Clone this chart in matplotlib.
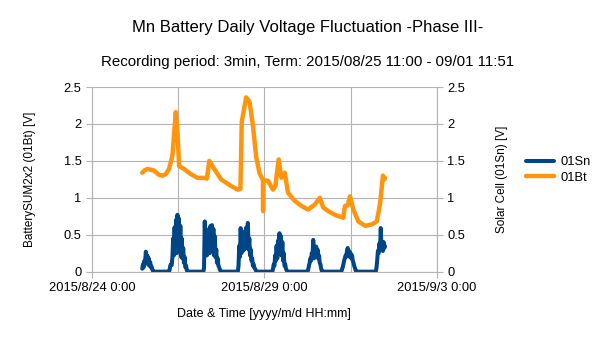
import matplotlib
matplotlib.use('Agg')
import matplotlib.pyplot as plt
import pandas as pd

plt.rcParams['font.family'] = ['Liberation Sans', 'DejaVu Sans']

# 01Bt : battery voltage (left axis)
bt_time = ['2015-08-25 11:00', '2015-08-25 12:30', '2015-08-25 14:30', '2015-08-25 17:00',
           '2015-08-25 19:10', '2015-08-25 22:40', '2015-08-26 01:00',
           '2015-08-26 03:20', '2015-08-26 05:40', '2015-08-26 08:00', '2015-08-26 10:20',
           '2015-08-26 11:30', '2015-08-26 12:40', '2015-08-26 16:10', '2015-08-26 20:50',
           '2015-08-27 01:30', '2015-08-27 06:10', '2015-08-27 08:00', '2015-08-27 09:40',
           '2015-08-27 13:10', '2015-08-27 17:50', '2015-08-28 00:50', '2015-08-28 05:30',
           '2015-08-28 07:20', '2015-08-28 08:15', '2015-08-28 11:20', '2015-08-28 13:40',
           '2015-08-28 16:00', '2015-08-28 18:20', '2015-08-28 20:40', '2015-08-28 23:00',
           '2015-08-28 23:06', '2015-08-28 23:12', '2015-08-29 02:30', '2015-08-29 06:00',
           '2015-08-29 07:40', '2015-08-29 09:55', '2015-08-29 11:50', '2015-08-29 14:10',
           '2015-08-29 16:25', '2015-08-29 21:05', '2015-08-30 01:50', '2015-08-30 06:25',
           '2015-08-30 11:10', '2015-08-30 14:35', '2015-08-30 16:55', '2015-08-30 20:25',
           '2015-08-31 01:05', '2015-08-31 06:55', '2015-08-31 08:05', '2015-08-31 10:00',
           '2015-08-31 11:35', '2015-08-31 13:55', '2015-08-31 17:25', '2015-08-31 22:05',
           '2015-09-01 02:50', '2015-09-01 06:15', '2015-09-01 08:35', '2015-09-01 10:30',
           '2015-09-01 11:35', '2015-09-01 11:51']
bt_volt = [1.34, 1.37, 1.39, 1.38,
           1.37, 1.31, 1.30,
           1.32, 1.39, 1.57, 2.16,
           1.89, 1.43, 1.39, 1.32,
           1.27, 1.27, 1.26, 1.50,
           1.39, 1.25, 1.16, 1.11,
           1.12, 2.03, 2.36, 2.30,
           1.98, 1.55, 1.33, 1.24,
           0.82, 1.24, 1.23, 1.11,
           1.16, 1.52, 1.27, 1.34,
           1.07, 0.96, 0.89, 0.84,
           0.91, 1.00, 0.87, 0.82,
           0.77, 0.73, 0.89, 0.90,
           1.02, 0.84, 0.68, 0.62,
           0.64, 0.68, 0.93, 1.30,
           1.25, 1.27]

# 01Sn : solar cell voltage (right axis), 30 min steps from each start time
sn_start = ['2015-08-25 11:00', '2015-08-26 05:30', '2015-08-27 05:30', '2015-08-28 05:30',
            '2015-08-29 05:30', '2015-08-30 06:00', '2015-08-31 05:30', '2015-09-01 05:30']
sn_0825 = [0.04, 0.10, 0.06, 0.15, 0.12, 0.27, 0.14, 0.22, 0.10, 0.18, 0.08, 0.13,
           0.06, 0.07, 0.03, 0.01, 0.0, 0.0]
sn_0826 = [0.0, 0.02, 0.08, 0.10, 0.09, 0.20, 0.45, 0.22, 0.60, 0.30, 0.70, 0.25, 0.77,
           0.35, 0.72, 0.28, 0.62, 0.20, 0.45, 0.18, 0.32, 0.12, 0.20, 0.06, 0.08, 0.02, 0.0]
sn_0827 = [0.0, 0.05, 0.68, 0.25, 0.55, 0.22, 0.52, 0.30, 0.58, 0.25, 0.62, 0.35, 0.63,
           0.28, 0.58, 0.22, 0.48, 0.20, 0.30, 0.12, 0.18, 0.08, 0.06, 0.03, 0.01, 0.0]
sn_0828 = [0.0, 0.08, 0.35, 0.20, 0.59, 0.25, 0.50, 0.28, 0.52, 0.30, 0.55, 0.32, 0.60,
           0.35, 0.66, 0.30, 0.45, 0.22, 0.30, 0.15, 0.18, 0.08, 0.10, 0.05, 0.04, 0.02, 0.0]
sn_0829 = [0.0, 0.04, 0.10, 0.08, 0.22, 0.15, 0.35, 0.18, 0.42, 0.25, 0.52, 0.28, 0.48,
           0.22, 0.40, 0.15, 0.25, 0.08, 0.10, 0.04, 0.02, 0.0]
sn_0830 = [0.0, 0.03, 0.08, 0.12, 0.18, 0.15, 0.25, 0.20, 0.43, 0.18, 0.30, 0.20, 0.34,
           0.22, 0.30, 0.18, 0.22, 0.12, 0.10, 0.04, 0.01, 0.0]
sn_0831 = [0.0, 0.03, 0.06, 0.10, 0.15, 0.18, 0.22, 0.20, 0.28, 0.32, 0.22, 0.28, 0.20,
           0.25, 0.18, 0.22, 0.15, 0.12, 0.08, 0.05, 0.02, 0.0]
sn_0901 = [0.0, 0.05, 0.15, 0.28, 0.25, 0.38, 0.30, 0.59, 0.30, 0.38, 0.28, 0.40, 0.32]
sn_days = [sn_0825, sn_0826, sn_0827, sn_0828, sn_0829, sn_0830, sn_0831, sn_0901]

sn_time = []
sn_volt = []
for start, vals in zip(sn_start, sn_days):
    sn_time += list(pd.date_range(start, periods=len(vals), freq='30min'))
    sn_volt += vals
sn_time.append(pd.Timestamp('2015-09-01 11:51'))
sn_volt.append(0.35)

x_ticks = ['2015-08-24', '2015-08-29', '2015-09-03']
x_labels = ['2015/8/24 0:00', '2015/8/29 0:00', '2015/9/3 0:00']
x_minor = ['2015-08-26 12:00', '2015-08-31 12:00']

c_sn = '#004586'
c_bt = '#ff950e'
c_grid = '#b3b3b3'

fig = plt.figure(figsize=(6.05, 3.4), dpi=100)
ax = fig.add_axes([0.152, 0.201, 0.570, 0.543])
ax2 = ax.twinx()

l_bt, = ax.plot(pd.to_datetime(bt_time), bt_volt, color=c_bt, lw=3.2,
                solid_joinstyle='round', solid_capstyle='round')
l_sn, = ax2.plot(sn_time, sn_volt, color=c_sn, lw=2.9,
                 solid_joinstyle='round', solid_capstyle='round')

for a in (ax, ax2):
    a.set_ylim(0, 2.5)
    a.set_yticks([0, 0.5, 1, 1.5, 2, 2.5])
    a.set_yticklabels(['0', '0.5', '1', '1.5', '2', '2.5'])
    a.set_xlim(pd.Timestamp('2015-08-24'), pd.Timestamp('2015-09-03'))
    for s in a.spines.values():
        s.set_visible(False)
    a.tick_params(axis='both', colors=c_grid, labelcolor='black', labelsize=9.3,
                  length=4, width=0.8)

ax.spines['left'].set_visible(True)
ax.spines['left'].set_color(c_grid)
ax.spines['bottom'].set_visible(True)
ax.spines['bottom'].set_color(c_grid)
ax2.spines['right'].set_visible(True)
ax2.spines['right'].set_color(c_grid)

ax.set_xticks(pd.to_datetime(x_ticks))
ax.set_xticklabels(x_labels)
ax.set_xticks(pd.to_datetime(x_minor), minor=True)
ax.tick_params(axis='x', which='minor', length=0)
ax.grid(True, which='both', color=c_grid, lw=0.8)
ax.set_axisbelow(True)

ax.set_xlabel('Date & Time [yyyy/m/d HH:mm]', fontsize=9, labelpad=10)
ax.set_ylabel('BatterySUM2x2 (01Bt) [V]', fontsize=8.5, labelpad=20)
ax2.set_ylabel('Solar Cell (01Sn) [V]', fontsize=8.5, labelpad=22)

fig.text(0.508, 0.92, 'Mn Battery Daily Voltage Fluctuation -Phase III-',
         ha='center', va='center', fontsize=12)
fig.text(0.508, 0.817, 'Recording period: 3min, Term: 2015/08/25 11:00 - 09/01 11:51',
         ha='center', va='center', fontsize=10.8)

fig.legend([l_sn, l_bt], ['01Sn', '01Bt'], loc='center left',
           bbox_to_anchor=(0.850, 0.50), frameon=False, fontsize=9.3,
           handlelength=2.2, handletextpad=0.5, labelspacing=0.3)

fig.savefig('out.png', dpi=100)
